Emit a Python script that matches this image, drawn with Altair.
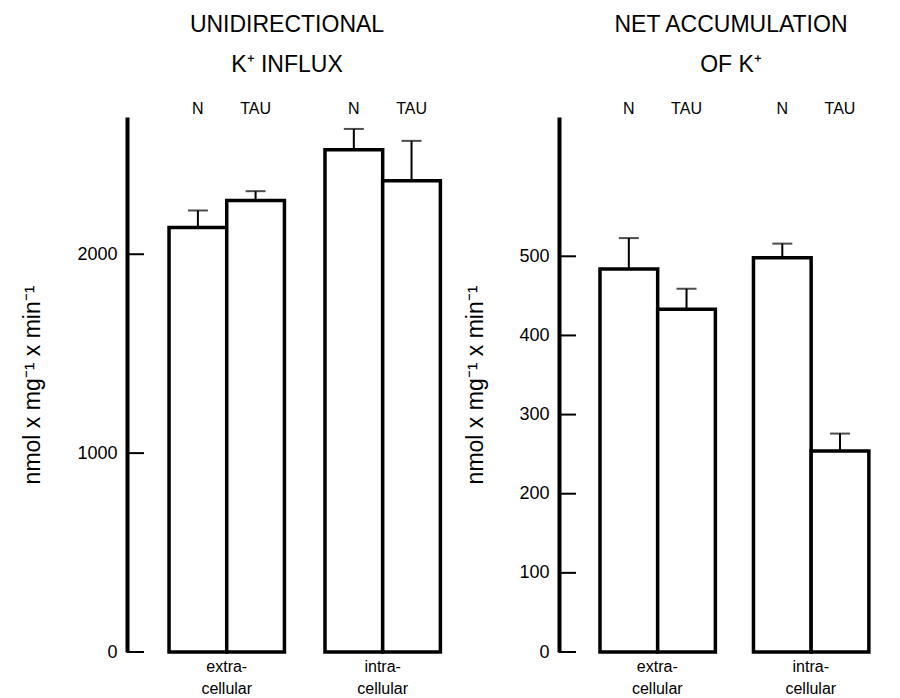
import altair as alt
import pandas as pd

# ---- data ----
groups = ["extra- cellular", "intra- cellular"]
conditions = ["N", "TAU"]

influx_mean = [2135, 2270, 2525, 2370]
influx_err = [85, 47, 105, 200]
influx_ticks = [0, 1000, 2000]

accum_mean = [484, 433, 498, 254]
accum_err = [39, 26, 18, 22]
accum_ticks = [0, 100, 200, 300, 400, 500]

y_title = "nmol x mg⁻¹ x min⁻¹"
FONT = "Liberation Sans"


def panel(means, errs, ticks, ymax, title, pin, pout, align, title_x, title_dx, width):
    rows = []
    i = 0
    for g in groups:
        for c in conditions:
            rows.append({"group": g, "cond": c, "mean": means[i], "upper": means[i] + errs[i]})
            i += 1
    df = pd.DataFrame(rows)

    xscale = alt.Scale(paddingInner=pin, paddingOuter=pout, align=align)
    xaxis = alt.Axis(title=None, domain=False, ticks=False, labelAngle=0,
                     labelFont=FONT, labelFontSize=16, labelColor="black",
                     labelPadding=6, labelLineHeight=22,
                     labelExpr="split(datum.label, ' ')")
    x = alt.X("group:N", sort=groups, scale=xscale, axis=xaxis)
    xo = alt.XOffset("cond:N", sort=conditions, scale=alt.Scale(paddingInner=0, paddingOuter=0))
    yscale = alt.Scale(domain=[0, ymax], nice=False, zero=True)
    yaxis = alt.Axis(values=ticks, format="d", ticks=False, grid=False, domainColor="black",
                     domainWidth=4, labelFont=FONT, labelFontSize=18,
                     labelColor="black", labelPadding=10, title=y_title,
                     titleFont=FONT, titleFontSize=23, titleFontWeight="normal",
                     titleColor="black", titleX=title_x, titleBaseline="middle")

    base = alt.Chart(df)
    bars = base.mark_bar(fill="white", stroke="black", strokeWidth=3.5).encode(
        x=x, xOffset=xo, y=alt.Y("mean:Q", scale=yscale, axis=yaxis))
    err = base.mark_rule(color="black", strokeWidth=2).encode(
        x=x, xOffset=xo, y=alt.Y("mean:Q", scale=yscale), y2="upper:Q")
    caps = base.mark_tick(color="black", thickness=2, size=20).encode(
        x=x, xOffset=xo, y=alt.Y("upper:Q", scale=yscale))
    labels = base.mark_text(font=FONT, fontSize=16, color="black", baseline="middle").encode(
        x=x, xOffset=xo, y=alt.value(-8), text="cond:N")
    tickmarks = alt.Chart(pd.DataFrame({"v": ticks})).mark_rule(color="black", strokeWidth=2).encode(
        y=alt.Y("v:Q", scale=yscale), x=alt.value(0), x2=alt.value(17))

    return alt.layer(err, caps, bars, tickmarks, labels).properties(
        width=width, height=535,
        title=alt.TitleParams(text=title, font=FONT, fontSize=23, fontWeight="normal",
                              color="black", lineHeight=40, anchor="middle",
                              offset=24, dx=title_dx))


left = panel(influx_mean, influx_err, influx_ticks, 2690,
             ["UNIDIRECTIONAL", "K⁺ INFLUX"], 0.26, 0.156, 0.864, -95, 0, 320)
right = panel(accum_mean, accum_err, accum_ticks, 676,
              ["NET ACCUMULATION", "OF K⁺"], 0.253, 0.169, 0.79, -84, 12, 320)

chart = alt.hconcat(left, right, spacing=17).configure_view(stroke=None).properties(
    padding={"left": 13, "top": 6, "right": 0, "bottom": 0}, background="white")

chart.save("out.html", embed_options={"renderer": "svg", "actions": False})
